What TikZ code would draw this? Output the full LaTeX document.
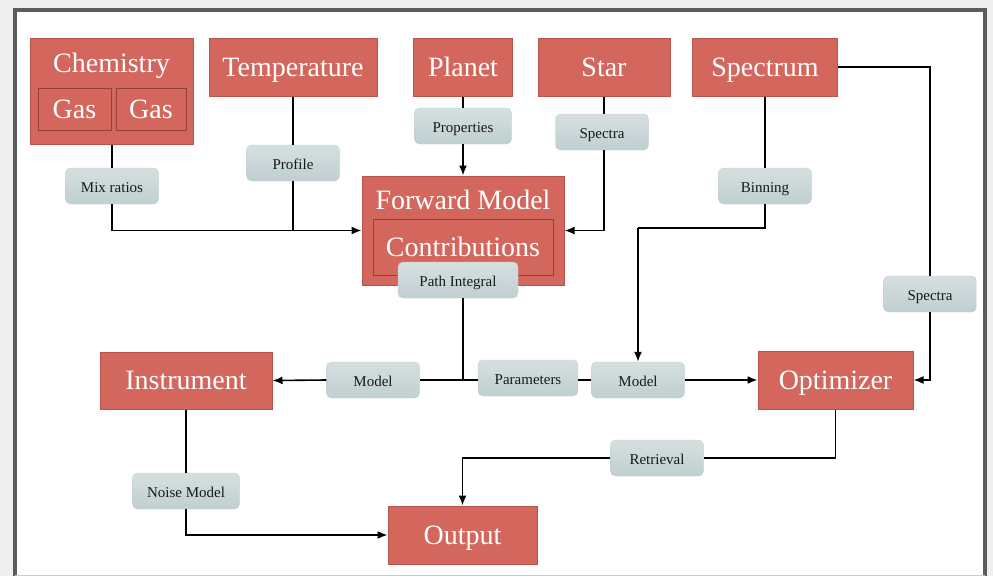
\documentclass[tikz,border=0pt]{standalone}
\usepackage{fontspec}
\setmainfont{Liberation Serif}
\usetikzlibrary{arrows.meta,positioning}
\definecolor{boxred}{HTML}{D4675D}
\definecolor{boxedge}{HTML}{B4544B}
\definecolor{tagtop}{HTML}{D5DFE0}
\definecolor{tagbot}{HTML}{C0CFD0}
\definecolor{framegray}{HTML}{5C5C5C}
\definecolor{pagegray}{HTML}{EFEFEF}
\newcommand{\bigtxt}{\fontsize{28}{32}\selectfont}

\begin{document}
\begin{tikzpicture}[x=1pt,y=-1pt,
  box/.style={draw=boxedge,fill=boxred,text=white,font=\bigtxt,inner sep=0pt,line width=1pt,
    text height=18pt,text depth=0pt},
  inbox/.style={draw=boxedge!80!black,text=white,font=\bigtxt,inner sep=0pt,line width=1pt,
    text height=18pt,text depth=0pt},
  title/.style={text=white,font=\bigtxt,inner sep=0pt,text height=18pt,text depth=0pt},
  tag/.style={rounded corners=5pt,top color=tagtop,bottom color=tagbot,draw=tagbot,inner sep=0pt,
    minimum width=93pt,minimum height=36pt,font=\fontsize{15}{17}\selectfont,text=black!90,
    text height=12pt,text depth=0pt},
  wire/.style={line width=1.6pt},
  arr/.style={-{Latex[length=10pt,width=8pt]},line width=1.6pt}
]
\useasboundingbox (0,0) rectangle (993,576);
\fill[pagegray] (0,0) rectangle (993,576);
\fill[white] (15,9.5) rectangle (985,576);
\draw[framegray,line width=4pt] (15,576) -- (15,9.5) -- (985,9.5) -- (985,576);
\draw[pagegray!85!black,line width=1pt] (15,575.5) -- (985,575.5);

% top row
\node[box,minimum width=163pt,minimum height=106pt] (chem) at (111.5,91) {};
\node[title] (chemname) at (111.5,63) {Chemistry};
\node[inbox,minimum width=73pt,minimum height=42pt] (gasa) at (74.5,109) {Gas};
\node[inbox,minimum width=70pt,minimum height=42pt] (gasb) at (151,109) {Gas};
\node[box,minimum width=168pt,minimum height=58pt] (temp) at (293,67) {Temperature};
\node[box,minimum width=99pt,minimum height=58pt] (planet) at (463,67) {Planet};
\node[box,minimum width=132pt,minimum height=58pt] (star) at (604,67) {Star};
\node[box,minimum width=145pt,minimum height=58pt] (spectrum) at (765,67) {Spectrum};

% forward model
\node[box,minimum width=202pt,minimum height=109pt] (fwd) at (463,230.5) {};
\node[title] (fwdname) at (463,200) {Forward Model};
\node[inbox,minimum width=180pt,minimum height=56pt] (contrib) at (463,247) {Contributions};

% bottom rows
\node[box,minimum width=172pt,minimum height=57pt] (instr) at (186,380.5) {Instrument};
\node[box,minimum width=155pt,minimum height=58pt] (optim) at (835.5,380) {Optimizer};
\node[box,minimum width=149pt,minimum height=58pt] (output) at (462.5,535) {Output};

% labels on the wires
\node[tag] (mix) at (112,186) {Mix ratios};
\node[tag] (profile) at (293,163) {Profile};
\node[tag,minimum width=97pt] (props) at (463,126) {Properties};
\node[tag] (starspec) at (602,132) {Spectra};
\node[tag] (binning) at (765,186) {Binning};
\node[tag] (optspec) at (930,294) {Spectra};
\node[tag,minimum width=120pt] (pathint) at (458,280) {Path Integral};
\node[tag] (modela) at (373,380) {Model};
\node[tag,minimum width=100pt] (params) at (528,378) {Parameters};
\node[tag] (modelb) at (638,380) {Model};
\node[tag] (retr) at (657,458) {Retrieval};
\node[tag,minimum width=107pt] (noise) at (186,491) {Noise Model};

\coordinate (junc) at (463,380);
\coordinate (binbend) at (638,228);

\draw[wire] (chem.south -| mix.north) -- (mix.north);
\draw[arr] (mix.south) |- (fwd.west);
\draw[wire] (temp.south) -- (profile.north);
\draw[wire] (profile.south) -- (profile.south |- fwd.west);
\draw[wire] (planet.south) -- (props.north);
\draw[arr] (props.south) -- (fwd.north);
\draw[wire] (star.south) -- (star.south |- starspec.north);
\draw[arr] (star.south |- starspec.south) |- (fwd.east);
\draw[wire] (spectrum.south) -- (binning.north);
\draw[wire] (binning.south) |- (binbend);
\draw[arr] (binbend) -- (modelb.north);
\draw[wire] (spectrum.east) -| (optspec.north);
\draw[arr] (optspec.south) |- (optim.east);
\draw[wire] (pathint.south -| fwd.south) -- (junc);
\draw[wire] (junc) -- (modela.east);
\draw[arr] (modela.west) -- (instr.east);
\draw[wire] (junc) -- (params.west |- junc);
\draw[wire] (params.east |- junc) -- (modelb.west);
\draw[arr] (modelb.east) -- (optim.west);
\draw[wire] (optim.south) |- (retr.east);
\draw[arr] (retr.west) -| (output.north);
\draw[wire] (instr.south) -- (noise.north);
\draw[arr] (noise.south) |- (output.west);
\end{tikzpicture}
\end{document}
